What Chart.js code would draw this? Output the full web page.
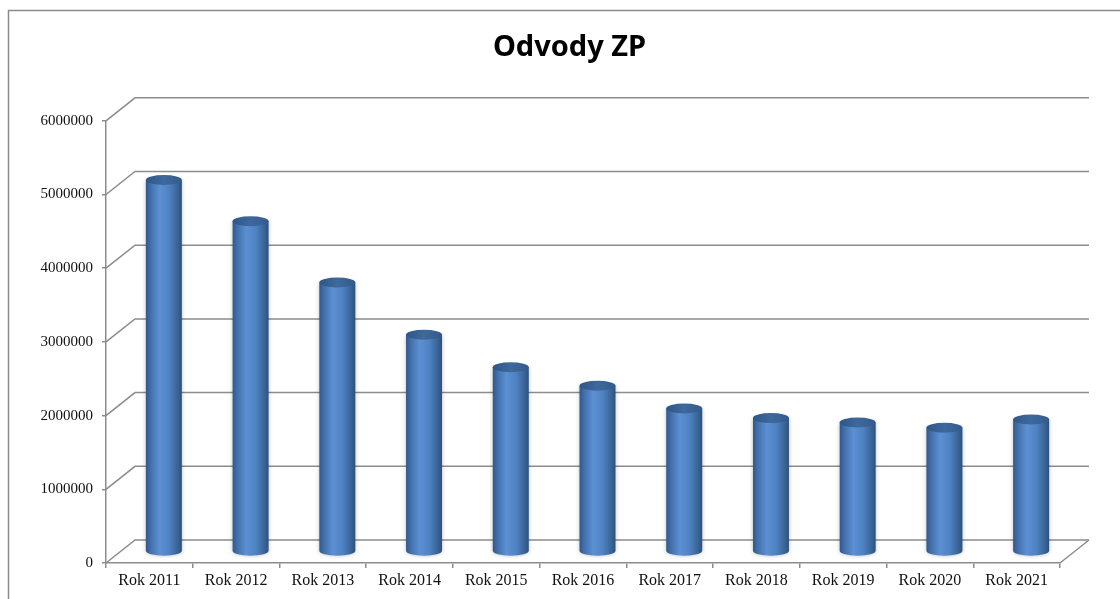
<!DOCTYPE html>
<html>
<head>
<meta charset="utf-8">
<script src="https://cdn.jsdelivr.net/npm/chart.js@4"></script>
<style>
  html, body { margin: 0; padding: 0; background: #fff; }
  #wrap { width: 1120px; height: 599px; }
</style>
</head>
<body>
<div id="wrap"><canvas id="chart"></canvas></div>
<script>
const categories = ['Rok 2011', 'Rok 2012', 'Rok 2013', 'Rok 2014', 'Rok 2015', 'Rok 2016',
                    'Rok 2017', 'Rok 2018', 'Rok 2019', 'Rok 2020', 'Rok 2021']
const odvody = [5040000, 4480000, 3650000, 2940000, 2500000, 2250000,
                1940000, 1810000, 1750000, 1680000, 1790000]
const yTicks = [0, 1000000, 2000000, 3000000, 4000000, 5000000, 6000000]

// depth of the 3d box (pixels)
const DX = 29, DY = -23
const lineCol = '#8c8c8c'

const frame = {
    id: 'frame',
    beforeDraw(chart) {
        const ctx = chart.ctx
        ctx.save()
        ctx.fillStyle = '#fff'
        ctx.fillRect(0, 0, chart.width, chart.height)
        ctx.strokeStyle = '#8a8a8a'
        ctx.lineWidth = 1.5
        ctx.strokeRect(8.5, 10.5, 1300, 800)
        ctx.restore()
    }
}

// side wall, back wall and floor of the 3d box
const walls = {
    id: 'walls',
    beforeDatasetsDraw(chart) {
        const ctx = chart.ctx
        const area = chart.chartArea
        const y = chart.scales.y
        ctx.save()
        ctx.strokeStyle = lineCol
        ctx.lineWidth = 1.5
        yTicks.forEach(v => {
            const py = y.getPixelForValue(v)
            ctx.beginPath()
            ctx.moveTo(area.left, py)
            ctx.lineTo(area.left + DX, py + DY)
            ctx.lineTo(area.right + DX, py + DY)
            ctx.stroke()
        })
        // right edge of floor
        const p0 = y.getPixelForValue(0)
        ctx.beginPath()
        ctx.moveTo(area.right, p0)
        ctx.lineTo(area.right + DX, p0 + DY)
        ctx.stroke()
        ctx.restore()
    }
}

// cylinders drawn at mid depth from the bar elements
const cylinders = {
    id: 'cylinders',
    afterDatasetsDraw(chart) {
        const ctx = chart.ctx
        const meta = chart.getDatasetMeta(0)
        ctx.save()
        meta.data.forEach(bar => {
            const w = bar.width
            const cx = bar.x + DX / 2
            const top = bar.y + DY / 2
            const bot = bar.base + DY / 2
            const rx = w / 2, ry = 5
            const l = cx - rx, r = cx + rx

            const g = ctx.createLinearGradient(l, 0, r, 0)
            g.addColorStop(0, '#30578a')
            g.addColorStop(0.12, '#416ea8')
            g.addColorStop(0.38, '#5c90d3')
            g.addColorStop(0.65, '#4f82c2')
            g.addColorStop(0.9, '#376292')
            g.addColorStop(1, '#2c5080')

            ctx.shadowColor = 'rgba(0,0,0,0.25)'
            ctx.shadowBlur = 4
            ctx.beginPath()
            ctx.moveTo(l, top)
            ctx.lineTo(l, bot)
            ctx.ellipse(cx, bot, rx, ry, 0, Math.PI, 0, true)
            ctx.lineTo(r, top)
            ctx.closePath()
            ctx.fillStyle = g
            ctx.fill()
            ctx.shadowBlur = 0
            ctx.shadowColor = 'transparent'

            const gt = ctx.createLinearGradient(l, 0, r, 0)
            gt.addColorStop(0, '#2f5686')
            gt.addColorStop(0.5, '#3e699e')
            gt.addColorStop(1, '#345a8b')
            ctx.beginPath()
            ctx.ellipse(cx, top, rx, ry, 0, 0, Math.PI * 2)
            ctx.fillStyle = gt
            ctx.fill()
        })
        ctx.restore()
    }
}

new Chart(document.getElementById('chart'), {
    type: 'bar',
    data: {
        labels: categories,
        datasets: [{
            label: 'Odvody ZP',
            data: odvody,
            backgroundColor: 'rgba(0,0,0,0)',
            borderWidth: 0,
            barPercentage: 0.415,
            categoryPercentage: 1
        }]
    },
    options: {
        responsive: true,
        maintainAspectRatio: false,
        animation: false,
        events: [],
        layout: { padding: { left: 19, right: 0, top: 0, bottom: 0 } },
        plugins: {
            legend: { display: false },
            tooltip: { enabled: false },
            title: {
                display: true,
                text: 'Odvody ZP',
                color: '#000',
                font: { family: 'Noto Sans', size: 29, weight: 'bold' },
                padding: { top: 30, bottom: 56 }
            }
        },
        scales: {
            x: {
                grid: { display: true, drawOnChartArea: false, drawTicks: true, tickLength: 5, color: lineCol, lineWidth: 1.5 },
                border: { display: true, color: lineCol, width: 1.5 },
                ticks: { color: '#111', font: { family: 'Liberation Serif', size: 16 }, padding: 3, maxRotation: 0 },
                afterFit(scale) { scale.height = 36 }
            },
            y: {
                min: 0,
                max: 6000000,
                grid: { display: true, drawOnChartArea: false, drawTicks: true, tickLength: 4, color: lineCol, lineWidth: 1.5 },
                border: { display: true, color: lineCol, width: 1.5 },
                ticks: {
                    stepSize: 1000000,
                    color: '#111',
                    font: { family: 'Liberation Serif', size: 15 },
                    padding: 9,
                    callback: v => String(v)
                },
                afterFit(scale) { scale.width = 87 }
            },
            // empty right axis only reserves the space right of the floor
            yRight: {
                position: 'right',
                display: true,
                grid: { display: false },
                border: { display: false },
                ticks: { display: false },
                afterFit(scale) { scale.width = 60 }
            }
        }
    },
    plugins: [frame, walls, cylinders]
})
</script>
</body>
</html>
